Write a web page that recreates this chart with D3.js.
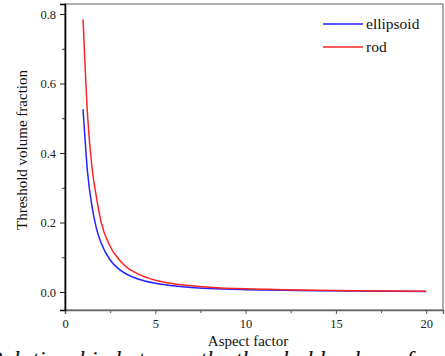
<!DOCTYPE html>
<html lang="en">
<head>
    <meta charset="UTF-8">
    <title>Threshold volume fraction vs aspect factor</title>
    <style>
        body {
            margin: 0;
            padding: 0;
            background-color: #fff;
            overflow: hidden;
        }
        svg {
            display: block;
            font-family: "Liberation Serif", "DejaVu Serif", serif;
        }
        .tick text {
            font-size: 12.5px;
            fill: #222;
        }
        .axis-label {
            font-size: 15px;
            text-anchor: middle;
            fill: #111;
        }
        .legend-text {
            font-size: 15.5px;
            fill: #111;
        }
        .caption {
            font-size: 24px;
            font-style: italic;
            fill: #111;
        }
    </style>
</head>
<body>
    <svg width="445" height="356"></svg>

    <script src="https://d3js.org/d3.v7.min.js"></script>
    <script>
        // values
        const aspect = [1, 1.25, 1.5, 1.75, 2, 2.5, 3, 3.5, 4, 5, 6, 7, 8, 10, 12, 14, 16, 18, 20];
        const ellipsoid = [0.526, 0.344, 0.245, 0.181, 0.141, 0.092, 0.065, 0.049, 0.038, 0.025, 0.018, 0.013, 0.010, 0.0067, 0.0048, 0.0035, 0.0027, 0.0022, 0.0018];
        const rod = [0.785, 0.508, 0.356, 0.27, 0.201, 0.131, 0.093, 0.068, 0.053, 0.034, 0.024, 0.018, 0.014, 0.009, 0.0065, 0.0048, 0.0037, 0.003, 0.0025];
        const xTicks = [0, 5, 10, 15, 20];
        const yTicks = [0.0, 0.2, 0.4, 0.6, 0.8];

        const series = [
            {name: "ellipsoid", values: ellipsoid, color: "#2323ff"},
            {name: "rod", values: rod, color: "#ff2323"}
        ];

        const svg = d3.select("svg");
        const plot = {left: 65, right: 443, top: 4, bottom: 310};

        const x = d3.scaleLinear()
            .domain([0, 20.93])
            .range([plot.left, plot.right]);

        const y = d3.scaleLinear()
            .domain([-0.0518, 0.8288])
            .range([plot.bottom, plot.top]);

        // d3 axes put sans-serif on their group; take it off so the serif face applies
        const plain = g => g.attr("font-family", null).attr("font-size", null);

        // frame (top and right)
        svg.append("rect")
            .attr("x", plot.left)
            .attr("y", plot.top)
            .attr("width", plot.right - plot.left)
            .attr("height", plot.bottom - plot.top)
            .attr("fill", "none")
            .attr("stroke", "#777")
            .attr("stroke-width", 1.2);

        // minor ticks
        svg.append("g")
            .attr("transform", `translate(0,${plot.bottom})`)
            .call(d3.axisBottom(x).tickValues([2.5, 7.5, 12.5, 17.5]).tickSize(3).tickFormat(""))
            .call(g => g.select(".domain").remove())
            .call(g => g.selectAll("line").attr("stroke", "#555"));

        svg.append("g")
            .attr("transform", `translate(${plot.left},0)`)
            .call(d3.axisLeft(y).tickValues([0.1, 0.3, 0.5, 0.7]).tickSize(3).tickFormat(""))
            .call(g => g.select(".domain").remove())
            .call(g => g.selectAll("line").attr("stroke", "#333"));

        // major axes
        svg.append("g")
            .attr("transform", `translate(0,${plot.bottom})`)
            .call(d3.axisBottom(x).tickValues(xTicks).tickSize(4).tickPadding(5).tickFormat(d3.format("d")))
            .call(plain)
            .call(g => g.select(".domain").attr("stroke", "#666").attr("stroke-width", 1.5))
            .call(g => g.selectAll(".tick line").attr("stroke", "#555"));

        svg.append("g")
            .attr("transform", `translate(${plot.left},0)`)
            .call(d3.axisLeft(y).tickValues(yTicks).tickSize(5).tickPadding(4).tickFormat(d3.format(".1f")))
            .call(plain)
            .call(g => g.select(".domain").attr("stroke", "#000").attr("stroke-width", 1.6))
            .call(g => g.selectAll(".tick line").attr("stroke", "#222"));

        // curves
        const line = d3.line()
            .x(d => x(d[0]))
            .y(d => y(d[1]))
            .curve(d3.curveMonotoneX);

        svg.append("g")
            .selectAll("path")
            .data(series)
            .join("path")
            .attr("d", s => line(aspect.map((a, i) => [a, s.values[i]])))
            .attr("fill", "none")
            .attr("stroke", s => s.color)
            .attr("stroke-width", 1.5);

        // legend
        const legend = svg.append("g")
            .selectAll("g")
            .data(series)
            .join("g")
            .attr("transform", (s, i) => `translate(323,${24 + i * 23})`);

        legend.append("line")
            .attr("x1", 0)
            .attr("x2", 40)
            .attr("stroke", s => s.color)
            .attr("stroke-width", 1.5);

        legend.append("text")
            .attr("class", "legend-text")
            .attr("x", 43)
            .attr("dy", "0.32em")
            .text(s => s.name);

        // axis titles
        svg.append("text")
            .attr("class", "axis-label")
            .attr("x", 248)
            .attr("y", 346)
            .text("Aspect factor");

        svg.append("text")
            .attr("class", "axis-label")
            .attr("transform", "translate(27,150) rotate(-90)")
            .text("Threshold volume fraction");

        // caption running off the bottom edge, as in the source image
        svg.append("text")
            .attr("class", "caption")
            .attr("x", -12)
            .attr("y", 367)
            .text("Relationship between the threshold volume fraction");
    </script>
</body>
</html>
